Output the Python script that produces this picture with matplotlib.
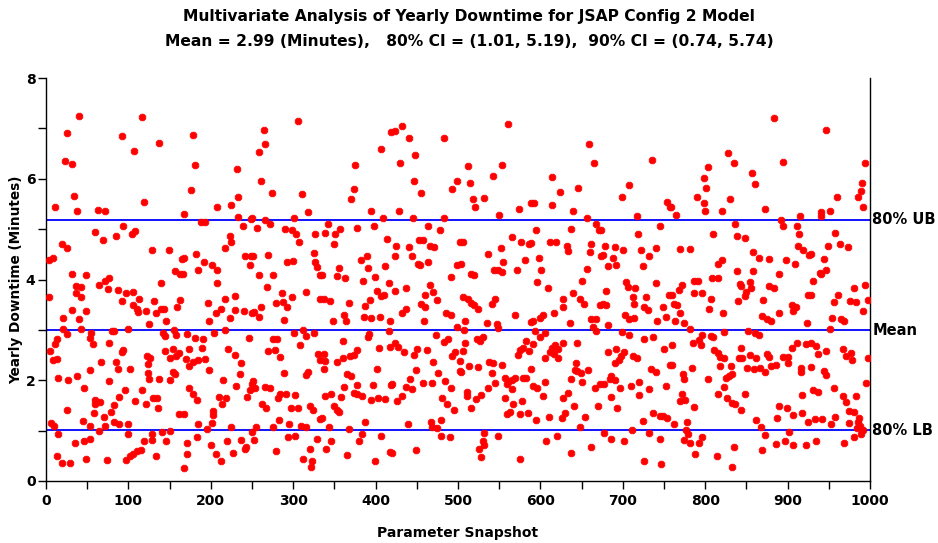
import matplotlib
matplotlib.use("Agg")
import matplotlib.pyplot as plt
from matplotlib.ticker import MultipleLocator

# ── data: (snapshot, yearly downtime in minutes) ─────────────────────────────
block_01 = [(40,7.25),(25,6.91),(23,6.36),(31,6.29),(34,5.66),(11,5.43),(38,5.36),(63,5.38),(72,5.36),(59,4.94),
            (69,4.78),(19,4.71),(25,4.63),(4,4.38),(9,4.42),(32,4.11),(49,4.09),(64,3.90),(71,3.97),(77,4.03),
            (75,3.81),(36,3.87),(43,3.86),(37,3.74),(43,3.66),(4,3.65),(32,3.39),(49,3.37),(21,3.23),(40,3.21),
            (21,3.01),(25,2.91),(42,3.01),(55,2.93),(53,2.83),(57,2.71),(76,2.74),(80,2.97),(13,2.82),(11,2.71),
            (5,2.58),(13,2.42),(8,2.40),(67,2.36),(54,2.20),(15,2.05),(27,2.00),(38,2.09),(46,1.84),(76,1.98),
            (59,1.61),(60,1.53),(66,1.56),(25,1.41),(58,1.34),(70,1.28),(79,1.36),(6,1.16),(10,1.10),(15,0.93),
            (45,1.20),(53,1.09),(71,1.09),(64,1.00),(46,0.80),(53,0.84),(35,0.76),(13,0.49),(19,0.36),(29,0.36),
            (48,0.43),(74,0.41)]
block_02 = [(117,7.23),(92,6.84),(137,6.71),(107,6.56),(119,5.54),(94,5.07),(85,4.87),(104,4.90),(108,4.96),(129,4.59),
            (149,4.59),(165,4.40),(156,4.17),(163,4.11),(139,3.94),(87,3.79),(97,3.74),(105,3.75),(113,3.62),(92,3.57),
            (131,3.57),(105,3.50),(111,3.42),(121,3.37),(112,3.35),(133,3.34),(140,3.41),(143,3.42),(159,3.45),(163,3.59),
            (146,3.18),(125,3.11),(83,2.97),(99,3.01),(142,2.94),(144,2.87),(155,2.99),(158,2.89),(94,2.61),(92,2.57),
            (123,2.48),(126,2.45),(144,2.58),(154,2.62),(150,2.44),(158,2.49),(162,2.54),(85,2.36),(87,2.22),(102,2.22),
            (124,2.32),(124,2.14),(125,2.02),(137,2.02),(150,2.00),(154,2.17),(157,2.13),(96,1.80),(88,1.66),(116,1.80),
            (108,1.58),(121,1.52),(130,1.64),(135,1.64),(136,1.44),(83,1.50),(161,1.33),(83,1.17),(88,1.14),(100,1.14),
            (99,0.93),(129,0.93),(141,0.97),(150,1.00),(129,0.81),(146,0.79),(119,0.79),(115,0.61),(110,0.59),(106,0.53),
            (102,0.49),(97,0.41),(133,0.49)]
block_03 = [(178,6.87),(181,6.28),(232,6.20),(176,5.78),(233,5.64),(225,5.48),(207,5.43),(168,5.31),(188,5.14),(193,5.14),
            (233,5.24),(239,5.07),(249,5.20),(223,4.87),(225,4.75),(217,4.62),(182,4.51),(167,4.42),(242,4.47),(249,4.46),
            (247,4.29),(192,4.34),(201,4.29),(185,4.18),(208,4.18),(208,3.93),(166,4.11),(229,3.67),(217,3.62),(196,3.54),
            (212,3.42),(206,3.33),(198,3.18),(223,3.23),(229,3.39),(240,3.37),(250,3.33),(171,2.91),(204,2.94),(217,2.99),
            (181,2.83),(190,2.81),(189,2.65),(173,2.62),(246,2.83),(221,2.62),(229,2.50),(170,2.42),(174,2.29),(179,2.37),
            (184,2.40),(193,2.42),(198,2.20),(237,2.34),(235,2.12),(215,2.00),(250,1.93),(230,1.89),(248,1.80),(244,1.66),
            (174,1.84),(178,1.73),(183,1.61),(210,1.66),(218,1.64),(214,1.52),(203,1.38),(203,1.32),(167,1.33),(202,1.16),
            (185,1.13),(195,1.03),(225,1.08),(183,0.88),(250,0.98),(171,0.75),(171,0.53),(200,0.71),(206,0.53),(212,0.40),
            (220,0.79),(227,0.56),(237,0.81),(241,0.63),(243,0.68),(167,0.25)]
block_04 = [(306,7.15),(264,6.96),(266,6.68),(258,6.53),(261,5.95),(274,5.72),(311,5.70),(318,5.34),(250,5.22),(266,5.18),
            (272,5.10),(256,5.03),(301,5.22),(290,5.00),(298,4.98),(304,4.90),(307,4.75),(326,4.90),(251,4.47),(270,4.49),
            (325,4.52),(292,4.34),(300,4.36),(327,4.34),(329,4.25),(259,4.09),(275,4.09),(333,4.09),(268,3.86),(286,3.73),
            (279,3.54),(288,3.55),(299,3.65),(293,3.45),(316,3.75),(333,3.61),(261,3.45),(253,3.35),(259,3.25),(289,3.19),
            (301,2.94),(312,2.99),(325,2.94),(315,2.87),(276,2.82),(280,2.82),(308,2.70),(270,2.58),(278,2.61),(284,2.46),
            (330,2.52),(333,2.40),(289,2.14),(318,2.17),(316,2.10),(251,1.98),(254,1.85),(266,1.86),(272,1.84),(284,1.73),
            (291,1.72),(282,1.64),(302,1.70),(262,1.53),(267,1.44),(297,1.44),(306,1.45),(320,1.48),(324,1.41),(283,1.22),
            (295,1.14),(309,1.10),(315,1.08),(255,1.08),(275,1.08),(333,1.24),(253,0.81),(294,0.88),(302,0.89),(329,0.84),
            (279,0.59),(320,0.63),(312,0.43),(323,0.40),(322,0.28)]
block_05 = [(419,6.93),(407,6.60),(375,6.28),(374,5.79),(370,5.60),(395,5.36),(409,5.23),(342,5.10),(339,4.92),(351,4.90),
            (357,5.00),(377,5.03),(398,5.07),(349,4.70),(414,4.80),(382,4.39),(389,4.46),(391,4.22),(335,4.09),(355,4.22),
            (353,4.06),(363,4.03),(385,3.98),(399,4.05),(412,4.26),(416,3.93),(402,3.77),(410,3.70),(407,3.67),(393,3.59),
            (387,3.47),(337,3.62),(345,3.57),(368,3.53),(362,3.29),(364,3.17),(348,3.17),(386,3.26),(395,3.23),(405,3.26),
            (417,3.17),(392,2.91),(391,2.85),(416,2.97),(360,2.78),(337,2.52),(338,2.38),(377,2.61),(374,2.50),(369,2.48),
            (360,2.44),(353,2.36),(404,2.65),(418,2.66),(337,2.22),(402,2.22),(365,2.12),(370,2.08),(362,1.86),(377,1.90),
            (397,1.90),(419,1.90),(338,1.69),(346,1.72),(358,1.66),(374,1.74),(377,1.72),(383,1.69),(394,1.61),(403,1.64),
            (412,1.62),(349,1.48),(353,1.40),(355,1.37),(335,1.25),(343,1.08),(368,1.03),(387,1.17),(383,0.93),(380,0.80),
            (346,0.79),(340,0.64),(407,0.89),(365,0.52),(399,0.40),(417,0.57)]
block_06 = [(423,6.95),(432,7.05),(441,6.81),(483,6.81),(448,6.48),(430,6.31),(446,5.96),(499,5.96),(493,5.80),(455,5.72),
            (428,5.35),(445,5.23),(483,5.23),(464,5.06),(478,4.98),(425,4.67),(440,4.64),(453,4.78),(458,4.78),(466,4.67),
            (471,4.64),(503,4.75),(424,4.47),(444,4.47),(451,4.31),(454,4.29),(464,4.34),(499,4.29),(492,4.05),(437,3.83),
            (424,3.78),(466,3.90),(470,3.75),(460,3.70),(474,3.59),(455,3.51),(460,3.45),(437,3.42),(432,3.33),(486,3.34),
            (492,3.30),(459,3.17),(499,3.06),(473,2.89),(483,2.75),(488,2.81),(423,2.73),(427,2.66),(434,2.56),(447,2.50),
            (450,2.63),(462,2.61),(496,2.56),(493,2.48),(470,2.36),(502,2.38),(502,2.18),(449,2.20),(476,2.14),(442,2.02),
            (420,1.92),(458,1.94),(468,1.94),(437,1.86),(444,1.82),(484,1.98),(492,1.84),(481,1.65),(487,1.53),(495,1.41),
            (432,1.69),(426,1.58),(467,1.18),(479,1.21),(439,1.13),(468,1.08),(474,1.05),(479,0.90),(490,0.88),(449,0.61),
            (420,0.56)]
block_07 = [(561,7.09),(512,6.25),(553,6.28),(515,5.92),(543,6.05),(518,5.59),(532,5.62),(521,5.43),(550,5.28),(574,5.39),
            (588,5.51),(506,4.75),(565,4.84),(577,4.74),(586,4.71),(552,4.62),(536,4.51),(581,4.39),(555,4.34),(504,4.30),
            (516,4.11),(520,4.09),(544,4.18),(549,4.18),(553,4.15),(572,4.18),(545,3.61),(541,3.51),(506,3.66),(512,3.62),
            (516,3.53),(520,3.49),(524,3.41),(569,3.30),(509,3.18),(535,3.14),(547,3.11),(549,3.03),(507,2.99),(588,3.15),
            (523,2.82),(527,2.77),(530,2.86),(583,2.78),(509,2.73),(506,2.59),(579,2.65),(575,2.61),(586,2.59),(573,2.50),
            (538,2.37),(542,2.34),(554,2.30),(513,2.29),(524,2.26),(504,2.17),(557,2.04),(562,1.98),(566,2.00),(569,2.04),
            (579,2.05),(583,2.04),(560,1.92),(565,1.82),(536,1.85),(545,1.94),(541,2.14),(511,1.77),(511,1.68),(528,1.70),
            (522,1.62),(557,1.65),(516,1.44),(567,1.53),(578,1.58),(575,1.33),(585,1.34),(563,1.37),(559,1.33),(532,0.96),
            (548,0.89),(530,0.79),(532,0.72),(525,0.64),(528,0.47),(575,0.43)]
block_08 = [(659,6.69),(665,6.31),(614,6.04),(624,5.74),(646,5.82),(592,5.51),(614,5.48),(640,5.36),(656,5.23),(667,5.11),
            (671,4.99),(595,4.98),(637,5.00),(589,4.72),(612,4.75),(619,4.75),(632,4.66),(634,4.56),(662,4.70),(660,4.54),
            (673,4.47),(598,4.43),(656,4.20),(601,4.18),(651,3.98),(596,3.95),(609,3.83),(640,3.73),(648,3.62),(653,3.51),
            (628,3.62),(628,3.45),(672,3.50),(603,3.30),(600,3.23),(616,3.33),(591,3.17),(636,3.14),(662,3.21),(667,3.21),
            (664,3.05),(668,2.98),(594,2.98),(605,2.94),(600,2.86),(591,2.71),(645,2.74),(618,2.70),(614,2.65),(621,2.63),
            (627,2.74),(612,2.57),(616,2.52),(621,2.45),(605,2.44),(643,2.34),(589,2.22),(642,2.20),(645,2.18),(649,2.14),
            (658,2.20),(637,2.02),(651,1.97),(605,1.97),(666,1.85),(672,1.93),(591,1.89),(596,1.84),(603,1.69),(634,1.74),
            (627,1.65),(641,1.48),(670,1.48),(630,1.34),(626,1.25),(595,1.22),(611,1.28),(654,1.28),(648,1.08),(620,0.89),
            (607,0.79),(661,0.67),(637,0.56)]
block_09 = [(736,6.37),(708,5.87),(699,5.63),(754,5.54),(757,5.43),(717,5.26),(674,4.99),(745,5.06),(719,4.90),(678,4.67),
            (690,4.64),(676,4.49),(700,4.58),(722,4.59),(740,4.62),(732,4.47),(688,4.42),(682,4.26),(692,4.29),(724,4.26),
            (704,3.95),(706,3.85),(715,3.83),(740,3.93),(680,3.78),(756,3.69),(676,3.51),(680,3.50),(712,3.65),(713,3.51),
            (728,3.66),(726,3.45),(731,3.39),(749,3.45),(703,3.30),(707,3.21),(713,3.23),(742,3.18),(752,3.26),(682,3.10),
            (699,2.95),(707,2.89),(726,2.81),(737,2.85),(750,2.63),(682,2.57),(692,2.62),(702,2.57),(712,2.48),(717,2.44),
            (698,2.48),(695,2.40),(691,2.34),(734,2.22),(740,2.16),(757,2.30),(686,2.08),(684,2.02),(690,2.01),(677,1.93),
            (696,1.85),(710,1.89),(720,1.97),(732,1.82),(752,1.89),(686,1.66),(720,1.70),(693,1.44),(737,1.34),(745,1.30),
            (749,1.30),(754,1.25),(724,1.19),(711,1.01),(732,0.95),(745,0.84),(686,0.84),(702,0.79),(677,0.95),(726,0.39),
            (746,0.33)]
block_10 = [(828,6.51),(803,6.24),(835,6.31),(799,6.01),(801,5.82),(790,5.64),(830,5.59),(758,5.44),(765,5.28),(800,5.35),
            (799,5.51),(820,5.35),(836,5.10),(810,4.90),(838,4.87),(769,4.60),(781,4.60),(820,4.38),(816,4.31),(839,4.17),
            (808,4.03),(816,4.03),(786,3.98),(791,3.98),(772,3.89),(768,3.79),(760,3.69),(786,3.73),(796,3.73),(807,3.61),
            (842,3.91),(805,3.42),(766,3.49),(769,3.33),(762,3.51),(763,3.18),(774,3.13),(821,3.33),(840,3.58),(782,3.01),
            (796,2.90),(793,2.79),(807,2.87),(810,2.85),(823,2.95),(785,2.74),(795,2.70),(811,2.61),(815,2.54),(818,2.46),
            (823,2.44),(760,2.70),(841,2.45),(818,2.28),(831,2.28),(784,2.25),(760,2.30),(773,2.13),(774,2.02),(804,2.02),
            (825,2.05),(829,2.08),(833,2.12),(823,1.86),(815,1.73),(772,1.72),(776,1.61),(769,1.58),(826,1.64),(832,1.54),
            (836,1.52),(786,1.46),(762,1.13),(778,1.18),(777,1.02),(779,0.93),(774,0.81),(782,0.76),(792,0.76),(796,0.87),
            (788,0.53),(835,0.67),(814,0.49),(832,0.28)]
block_11 = [(884,7.20),(894,6.33),(857,6.11),(860,5.90),(872,5.40),(892,5.18),(894,5.07),(915,5.26),(912,5.07),(914,4.90),
            (848,4.83),(858,4.54),(865,4.42),(877,4.40),(913,4.67),(919,4.59),(926,4.48),(898,4.39),(909,4.31),(858,4.17),
            (890,4.11),(844,3.87),(854,3.95),(855,3.83),(849,3.75),(848,3.67),(877,3.87),(883,3.83),(870,3.59),(905,3.50),
            (910,3.45),(907,3.37),(925,3.70),(890,3.34),(869,3.27),(875,3.21),(880,3.18),(923,3.14),(852,2.98),(861,2.93),
            (865,2.90),(844,2.65),(845,2.45),(854,2.50),(862,2.44),(875,2.53),(878,2.46),(894,2.46),(901,2.46),(900,2.34),
            (911,2.73),(905,2.65),(922,2.71),(851,2.25),(859,2.22),(866,2.25),(872,2.17),(880,2.28),(886,2.30),(916,2.25),
            (916,2.17),(848,1.73),(918,1.70),(889,1.48),(887,1.26),(899,1.45),(907,1.32),(918,1.34),(925,1.17),(862,1.22),
            (843,1.40),(868,1.08),(873,0.92),(902,0.97),(897,0.80),(886,0.73),(906,0.72),(922,0.72),(869,0.61)]
block_12 = [(947,6.96),(994,6.31),(990,5.92),(989,5.76),(986,5.64),(960,5.63),(992,5.43),(951,5.36),(940,5.34),(941,5.26),
            (958,4.92),(963,4.70),(973,4.64),(949,4.67),(929,4.50),(944,4.40),(947,4.19),(941,4.11),(939,4.12),(931,3.98),
            (929,3.70),(980,3.83),(994,3.89),(961,3.70),(956,3.55),(976,3.58),(983,3.55),(998,3.60),(991,3.37),(954,3.23),
            (965,3.22),(969,3.18),(952,3.01),(929,2.73),(934,2.67),(937,2.53),(946,2.58),(967,2.63),(977,2.55),(971,2.48),
            (978,2.40),(998,2.44),(929,2.26),(944,2.18),(947,2.10),(995,1.94),(931,1.80),(937,1.76),(956,1.85),(967,1.68),
            (983,1.69),(971,1.56),(975,1.38),(980,1.37),(987,1.25),(985,1.18),(988,1.10),(992,1.01),(984,1.05),(933,1.24),
            (942,1.24),(957,1.28),(953,1.13),(974,1.16),(980,0.88),(935,0.79),(969,0.76),(989,0.94)]

blocks = [block_01, block_02, block_03, block_04, block_05, block_06,
          block_07, block_08, block_09, block_10, block_11, block_12]

ref_values = [5.19, 2.99, 1.01]
ref_labels = ["80% UB", "Mean", "80% LB"]

title_lines = ["Multivariate Analysis of Yearly Downtime for JSAP Config 2 Model",
               "Mean = 2.99 (Minutes),   80% CI = (1.01, 5.19),  90% CI = (0.74, 5.74)"]

snap = [p[0] for b in blocks for p in b]
down = [p[1] for b in blocks for p in b]

# ── figure ───────────────────────────────────────────────────────────────────
plt.rcParams["font.family"] = "DejaVu Sans"
plt.rcParams["font.weight"] = "bold"

fig = plt.figure(figsize=(9.38, 5.43), dpi=100)
ax = fig.add_axes([46 / 938, 1 - 481 / 543, (870 - 46) / 938, (481 - 78) / 543])

ax.scatter(snap, down, s=27, marker="8", color="#ff0000", edgecolors="#ff0000",
           linewidths=0.5, zorder=3)

for v, lab in zip(ref_values, ref_labels):
    ax.axhline(v, color="#0000ff", linewidth=1.3, zorder=2)
    ax.text(1003, v, lab, ha="left", va="center", fontsize=10.5,
            fontweight="bold", clip_on=False)

ax.set_xlim(0, 1000)
ax.set_ylim(0, 8)
ax.xaxis.set_major_locator(MultipleLocator(100))
ax.xaxis.set_minor_locator(MultipleLocator(50))
ax.yaxis.set_major_locator(MultipleLocator(2))
ax.yaxis.set_minor_locator(MultipleLocator(1))
ax.tick_params(which="both", direction="out", length=6, width=1, labelsize=10)
ax.tick_params(axis="y", pad=1.5)
for lbl in ax.get_xticklabels() + ax.get_yticklabels():
    lbl.set_fontweight("bold")

ax.spines["top"].set_visible(False)
for side in ("left", "right", "bottom"):
    ax.spines[side].set_linewidth(1.0)

ax.set_xlabel("Parameter Snapshot", fontsize=10, fontweight="bold", va="center")
ax.xaxis.set_label_coords(0.5, -(533 - 481) / 403)
ax.set_ylabel("Yearly Downtime (Minutes)", fontsize=9.8, fontweight="bold", va="center")
ax.yaxis.set_label_coords(-(46 - 16) / 824, 0.5)

fig.text(0.5, 1 - 17 / 543, title_lines[0], ha="center", va="center",
         fontsize=11.2, fontweight="bold")
fig.text(0.5, 1 - 42 / 543, title_lines[1], ha="center", va="center",
         fontsize=11.2, fontweight="bold")

fig.savefig("out.png", dpi=100)
